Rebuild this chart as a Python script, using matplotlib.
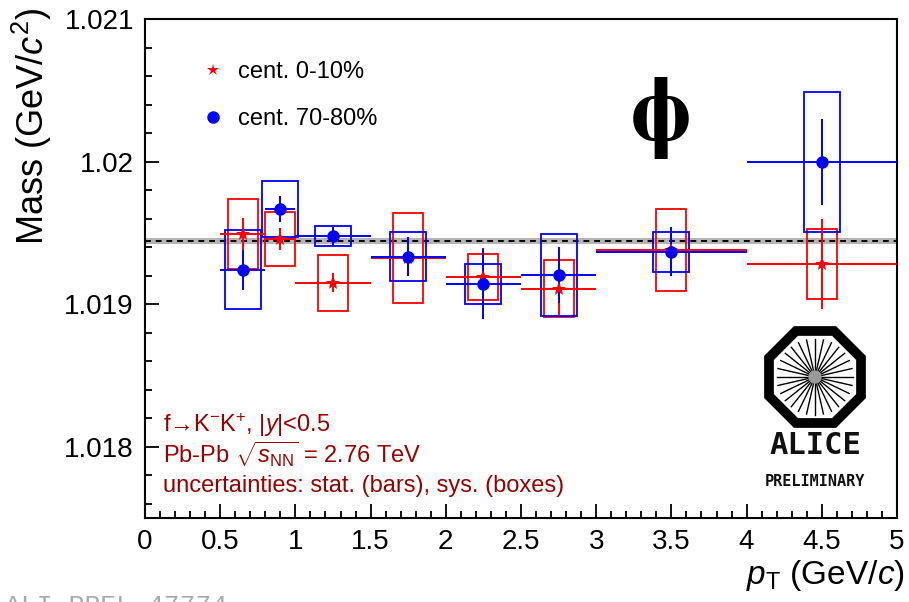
import numpy as np
import matplotlib
matplotlib.use("Agg")
import matplotlib.pyplot as plt
from matplotlib.patches import Rectangle, RegularPolygon, Circle
from matplotlib.lines import Line2D
from matplotlib.ticker import MultipleLocator, FuncFormatter

plt.rcParams['font.family'] = ['Liberation Sans', 'DejaVu Sans']
plt.rcParams['mathtext.fontset'] = 'custom'
plt.rcParams['mathtext.rm'] = 'Liberation Sans'
plt.rcParams['mathtext.it'] = 'Liberation Sans:italic'
plt.rcParams['mathtext.bf'] = 'Liberation Sans:bold'

# ---------------- data ----------------
pt = [0.65, 0.9, 1.25, 1.75, 2.25, 2.75, 3.5, 4.5]
pt_lo = [0.5, 0.8, 1.0, 1.5, 2.0, 2.5, 3.0, 4.0]
pt_hi = [0.8, 1.0, 1.5, 2.0, 2.5, 3.0, 4.0, 5.0]

mass_c010 = [1.019492, 1.019457, 1.019149, 1.019324, 1.019191, 1.019107, 1.019380, 1.019282]
stat_c010 = [0.000112, 0.000074, 0.000067, 0.000100, 0.000200, 0.000180, 0.000120, 0.000316]
sys_c010 = [0.000245, 0.000190, 0.000196, 0.000316, 0.000160, 0.000200, 0.000288, 0.000245]

mass_c7080 = [1.019240, 1.019668, 1.019478, 1.019331, 1.019142, 1.019205, 1.019366, 1.019997]
stat_c7080 = [0.000140, 0.000091, 0.000063, 0.000137, 0.000245, 0.000196, 0.000172, 0.000305]
sys_c7080 = [0.000277, 0.000196, 0.000067, 0.000172, 0.000140, 0.000288, 0.000140, 0.000494]

pdg_mass = 1.019445
pdg_err = 0.000020

label_c010 = "cent. 0-10%"
label_c7080 = "cent. 70-80%"

RED = '#ff0000'
BLUE = '#0000ff'
DARKRED = '#990000'

W, H = 909, 602
fig = plt.figure(figsize=(W / 100, H / 100), dpi=100)
ax = fig.add_axes([145 / W, 1 - 518 / H, 752 / W, 499 / H])

ax.set_xlim(0, 5)
ax.set_ylim(1.0175, 1.021)

# reference band
ax.axhspan(pdg_mass - pdg_err, pdg_mass + pdg_err, color='#b4b4b4', lw=0, zorder=1)
ax.axhline(pdg_mass, color='black', ls=(0, (3, 2.5)), lw=1.4, zorder=2)


def draw_series(mass, stat, sys, color, marker, ms, boxhw):
    x = np.array(pt)
    m = np.array(mass)
    xerr = [x - np.array(pt_lo), np.array(pt_hi) - x]
    for xi, mi, si in zip(x, m, sys):
        ax.add_patch(Rectangle((xi - boxhw, mi - si), 2 * boxhw, 2 * si,
                               fill=False, edgecolor=color, lw=1.3, zorder=3))
    ax.errorbar(x, m, xerr=xerr, yerr=stat, fmt=marker, color=color,
                ecolor=color, elinewidth=1.4, capsize=0, ms=ms,
                markeredgewidth=0, zorder=4)


draw_series(mass_c010, stat_c010, sys_c010, RED, '*', 10, 0.10)
draw_series(mass_c7080, stat_c7080, sys_c7080, BLUE, 'o', 9, 0.12)

# axes styling
for sp in ax.spines.values():
    sp.set_linewidth(1.5)
ax.xaxis.set_major_locator(MultipleLocator(0.5))
ax.xaxis.set_minor_locator(MultipleLocator(0.1))
ax.yaxis.set_major_locator(MultipleLocator(0.001))
ax.yaxis.set_minor_locator(MultipleLocator(0.0002))
fmt = FuncFormatter(lambda v, p: '%g' % round(v, 6))
ax.xaxis.set_major_formatter(fmt)
ax.yaxis.set_major_formatter(fmt)
ax.tick_params(which='both', direction='in', top=False, right=False, width=1.3)
ax.tick_params(which='major', length=10, labelsize=20, pad=8)
ax.tick_params(which='minor', length=5)

ax.set_xlabel(r'$p_{\rm T}$ (GeV/$c$)', fontsize=24, loc='right')
ax.xaxis.set_label_coords(905 / W, 1 - 558 / H, transform=fig.transFigure)
ax.set_ylabel(r'Mass (GeV/$c^{2}$)', fontsize=26, loc='top')
ax.yaxis.set_label_coords(54 / W, 1 - 8 / H, transform=fig.transFigure)

# legend
handles = [Line2D([], [], ls='none', marker='*', color=RED, ms=9, markeredgewidth=0),
           Line2D([], [], ls='none', marker='o', color=BLUE, ms=9, markeredgewidth=0)]
ax.legend(handles, [label_c010, label_c7080], loc='upper left',
          bbox_to_anchor=((201 - 145) / 752, 1 - (61 - 19) / 499),
          frameon=False, fontsize=17, handlelength=1.0, handletextpad=0.55,
          labelspacing=1.07, borderpad=0, borderaxespad=0)

# phi symbol
fig.text(660 / W, 1 - 118 / H, r'$\mathbf{\phi}$', fontsize=66,
         math_fontfamily='stix', ha='center', va='center')

# info text
ax.text(18 / 752, 1 - (432 - 19) / 499, 'f\u2192K$^{-}$K$^{+}$, |$y$|<0.5',
        transform=ax.transAxes, fontsize=17, color=DARKRED, va='baseline')
ax.text(18 / 752, 1 - (463 - 19) / 499, r'Pb-Pb $\sqrt{s_{\rm NN}}$ = 2.76 TeV',
        transform=ax.transAxes, fontsize=17, color=DARKRED, va='baseline')
ax.text(18 / 752, 1 - (492 - 19) / 499, 'uncertainties: stat. (bars), sys. (boxes)',
        transform=ax.transAxes, fontsize=17, color=DARKRED, va='baseline')

# ALICE logo
lax = fig.add_axes([762 / W, 1 - 429 / H, 106 / W, 104 / H])
lax.set_xlim(-1.06, 1.06)
lax.set_ylim(-1.04, 1.04)
lax.axis('off')
R = 1.0 / np.cos(np.pi / 8)
lax.add_patch(RegularPolygon((0, 0), 8, radius=R * 0.92, orientation=np.pi / 8,
                             facecolor='white', edgecolor='black', lw=7))
ang = np.linspace(0, 2 * np.pi, 29)[:-1]
for a in ang:
    lax.plot([0.06 * np.cos(a), 0.76 * np.cos(a)], [0.06 * np.sin(a), 0.76 * np.sin(a)],
             color='black', lw=1.0)
lax.add_patch(Circle((0, 0), 0.12, color='#999999', zorder=5))

fig.text(815 / W, 1 - 446 / H, 'ALICE', fontsize=22, fontweight='bold',
         family='DejaVu Sans Mono', ha='center', va='center', color='#111111')
fig.text(815 / W, 1 - 481 / H, 'PRELIMINARY', fontsize=11, fontweight='bold',
         family='DejaVu Sans Mono', ha='center', va='center', color='#111111')

# watermark
fig.text(5 / W, 1 - 594 / H, 'ALI-PREL-47774', fontsize=19, family='Liberation Mono',
         color='#aaaaaa', ha='left', va='top')

fig.savefig('out.png', dpi=100)
